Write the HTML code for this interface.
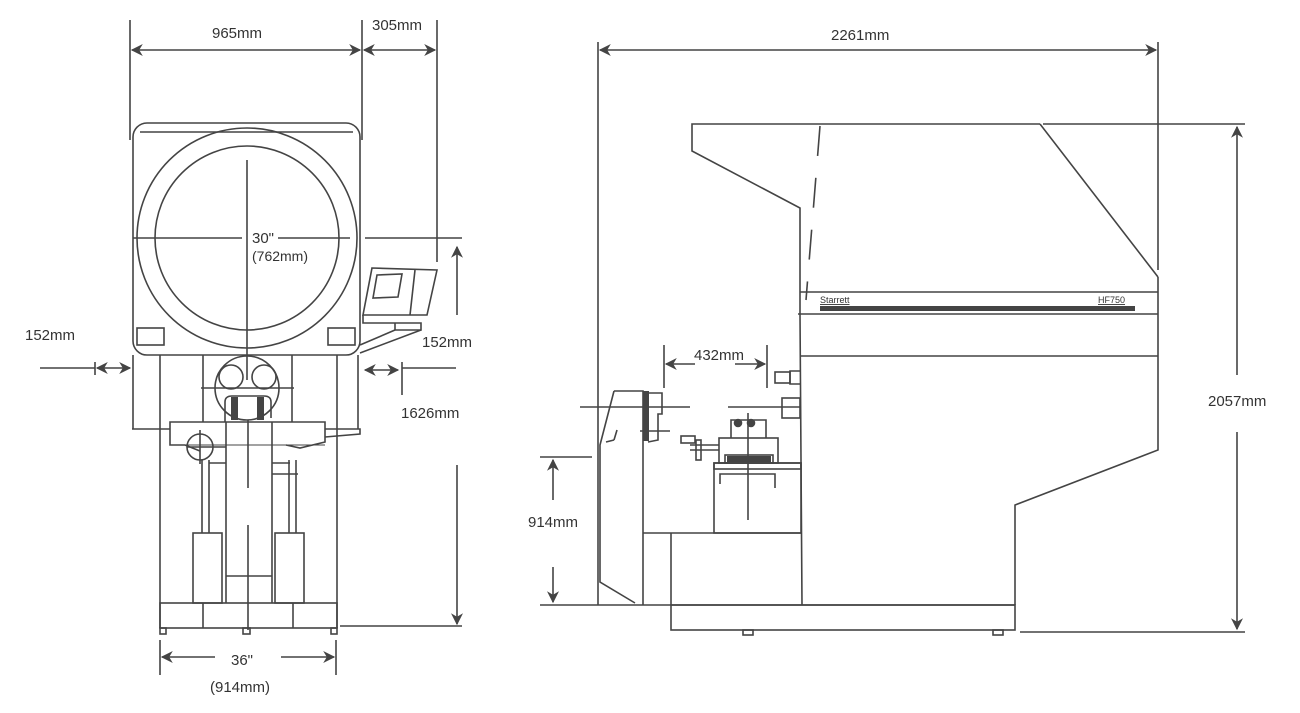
<!DOCTYPE html>
<html><head><meta charset="utf-8"><style>
html,body{margin:0;padding:0;background:#fff}
svg{display:block}
text{font-family:"Liberation Sans",sans-serif;fill:#333}
</style></head><body>
<svg width="1300" height="713" viewBox="0 0 1300 713" xmlns="http://www.w3.org/2000/svg">
<defs>
<marker id="a" viewBox="0 0 10 10" refX="9" refY="5" markerWidth="14" markerHeight="12" orient="auto-start-reverse" markerUnits="userSpaceOnUse"><path d="M0,0 L10,5 L0,10 L3,5 z" fill="#444"/></marker>
</defs>
<g stroke="#444" stroke-width="1.6" fill="none">
<line x1="130" y1="20" x2="130" y2="140"/>
<line x1="362" y1="20" x2="362" y2="140"/>
<line x1="437" y1="20" x2="437" y2="262"/>
<line x1="132" y1="50" x2="360" y2="50" marker-start="url(#a)" marker-end="url(#a)"/>
<line x1="364" y1="50" x2="435" y2="50" marker-start="url(#a)" marker-end="url(#a)"/>
<rect x="133" y="123" width="227" height="232" rx="14"/>
<line x1="140" y1="132" x2="353" y2="132"/>
<circle cx="247" cy="238" r="110"/>
<circle cx="247" cy="238" r="92"/>
<line x1="133" y1="238" x2="242" y2="238"/>
<line x1="278" y1="238" x2="350" y2="238"/>
<line x1="247" y1="160" x2="247" y2="380"/>
<line x1="365" y1="238" x2="462" y2="238"/>
<rect x="137" y="328" width="27" height="17"/>
<rect x="328" y="328" width="27" height="17"/>
<polygon points="372,268 437,270 427,315 363,315"/>
<polygon points="377,275 402,274 398,297 373,298"/>
<line x1="415" y1="270" x2="410" y2="315"/>
<polyline points="363,315 363,323 421,323 421,330 395,330 395,323"/>
<line x1="360" y1="353" x2="421" y2="330"/>
<line x1="360" y1="345" x2="395" y2="330"/>
<line x1="457" y1="315" x2="457" y2="247" marker-end="url(#a)"/>
<line x1="40" y1="368" x2="95" y2="368"/>
<line x1="95" y1="362" x2="95" y2="375"/>
<line x1="97" y1="368" x2="130" y2="368" marker-start="url(#a)" marker-end="url(#a)"/>
<line x1="365" y1="370" x2="398" y2="370" marker-start="url(#a)" marker-end="url(#a)"/>
<line x1="402" y1="362" x2="402" y2="395"/>
<line x1="402" y1="368" x2="456" y2="368"/>
<line x1="133" y1="355" x2="133" y2="429"/>
<line x1="358" y1="355" x2="358" y2="429"/>
<line x1="160" y1="355" x2="160" y2="628"/>
<line x1="337" y1="355" x2="337" y2="628"/>
<line x1="203" y1="355" x2="203" y2="422"/>
<line x1="292" y1="355" x2="292" y2="422"/>
<circle cx="247" cy="388" r="32"/>
<circle cx="231" cy="377" r="12"/>
<circle cx="264" cy="377" r="12"/>
<line x1="201" y1="388" x2="294" y2="388"/>
<path d="M225,422 L225,402 Q225,396 232,396 L264,396 Q271,396 271,402 L271,418"/>
<rect x="231" y="397" width="7" height="23" fill="#444" stroke="none"/>
<rect x="257" y="397" width="7" height="23" fill="#444" stroke="none"/>
<polyline points="170,437 170,422 325,422 325,437"/>
<polyline points="132,429 170,429 M132,429 132,434 170,437"/>
<polyline points="325,437 360,434 360,429 325,429"/>
<polyline points="170,437 170,445 185,445 200,451"/>
<polyline points="286,445 300,448 325,442 325,437"/>
<line x1="170" y1="445" x2="325" y2="445" stroke-width="1"/>
<circle cx="200" cy="447" r="13"/>
<line x1="200" y1="430" x2="200" y2="464"/>
<line x1="187" y1="447" x2="226" y2="447"/>
<line x1="226" y1="422" x2="226" y2="603"/>
<line x1="272" y1="422" x2="272" y2="603"/>
<line x1="226" y1="576" x2="272" y2="576"/>
<line x1="248" y1="420" x2="248" y2="488"/>
<line x1="248" y1="525" x2="248" y2="630"/>
<line x1="202" y1="460" x2="202" y2="533"/>
<line x1="209" y1="460" x2="209" y2="533"/>
<line x1="289" y1="460" x2="289" y2="533"/>
<line x1="296" y1="460" x2="296" y2="533"/>
<line x1="209" y1="463" x2="226" y2="463"/>
<line x1="272" y1="463" x2="290" y2="463"/>
<line x1="272" y1="474" x2="298" y2="474"/>
<rect x="193" y="533" width="29" height="70"/>
<rect x="275" y="533" width="29" height="70"/>
<rect x="160" y="603" width="177" height="25"/>
<line x1="203" y1="603" x2="203" y2="628"/>
<line x1="293" y1="603" x2="293" y2="628"/>
<rect x="160" y="628" width="6" height="6"/>
<rect x="243" y="628" width="7" height="6"/>
<rect x="331" y="628" width="6" height="6"/>
<line x1="457" y1="465" x2="457" y2="624" marker-end="url(#a)"/>
<line x1="340" y1="626" x2="462" y2="626"/>
<line x1="160" y1="640" x2="160" y2="675"/>
<line x1="336" y1="640" x2="336" y2="675"/>
<line x1="162" y1="657" x2="215" y2="657" marker-start="url(#a)"/>
<line x1="281" y1="657" x2="334" y2="657" marker-end="url(#a)"/>

<line x1="598" y1="42" x2="598" y2="605"/>
<line x1="1158" y1="42" x2="1158" y2="270"/>
<line x1="600" y1="50" x2="1156" y2="50" marker-start="url(#a)" marker-end="url(#a)"/>
<polyline points="1040,124 692,124 692,151 800,208 800,314 802,605"/>
<line x1="1040" y1="124" x2="1158" y2="277"/>
<line x1="820" y1="126" x2="806" y2="300" stroke-dasharray="30,22"/>
<line x1="1043" y1="124" x2="1245" y2="124"/>
<line x1="1237" y1="375" x2="1237" y2="127" marker-end="url(#a)"/>
<line x1="1237" y1="432" x2="1237" y2="629" marker-end="url(#a)"/>
<line x1="1020" y1="632" x2="1245" y2="632"/>
<line x1="800" y1="292" x2="1158" y2="292"/>
<line x1="798" y1="314" x2="1158" y2="314"/>
<line x1="800" y1="356" x2="1158" y2="356"/>
<polyline points="1158,277 1158,450 1015,505 1015,605"/>
<line x1="598" y1="605" x2="1015" y2="605"/>
<rect x="671" y="605" width="344" height="25"/>
<rect x="743" y="630" width="10" height="5"/>
<rect x="993" y="630" width="10" height="5"/>
<polyline points="614,391 600,445 600,582 635,603"/>
<polyline points="614,391 643,391 643,605"/>
<line x1="671" y1="533" x2="671" y2="605"/>
<line x1="643" y1="533" x2="801" y2="533"/>
<polyline points="646,393 662,393 662,414 658,414 658,440 648,442"/>
<rect x="643" y="391" width="6" height="50" fill="#444" stroke="none"/>
<line x1="580" y1="407" x2="690" y2="407"/>
<line x1="728" y1="407" x2="800" y2="407"/>
<line x1="640" y1="431" x2="670" y2="431"/>
<line x1="617" y1="430" x2="614" y2="440"/>
<line x1="606" y1="442" x2="614" y2="440"/>
<polyline points="800,371 790,371 790,384 800,384"/>
<rect x="775" y="372" width="15" height="11"/>
<rect x="782" y="398" width="18" height="20"/>
<rect x="714" y="463" width="87" height="70"/>
<rect x="714" y="463" width="87" height="6"/>
<polyline points="720,484 720,474 775,474 775,488"/>
<rect x="719" y="438" width="59" height="25"/>
<rect x="725" y="455" width="48" height="8"/>
<rect x="727" y="456" width="44" height="6" fill="#444" stroke="none"/>
<polyline points="731,438 731,420 766,420 766,438"/>
<line x1="748" y1="413" x2="748" y2="520"/>
<circle cx="738" cy="423" r="3.5" fill="#444"/>
<circle cx="751" cy="423" r="3.5" fill="#444"/>
<line x1="690" y1="445" x2="719" y2="445"/>
<line x1="690" y1="450" x2="719" y2="450"/>
<rect x="681" y="436" width="14" height="7"/>
<rect x="696" y="440" width="5" height="20"/>
<line x1="664" y1="345" x2="664" y2="388"/>
<line x1="767" y1="345" x2="767" y2="388"/>
<line x1="666" y1="364" x2="695" y2="364" marker-start="url(#a)"/>
<line x1="735" y1="364" x2="765" y2="364" marker-end="url(#a)"/>
<line x1="540" y1="457" x2="592" y2="457"/>
<line x1="540" y1="605" x2="598" y2="605"/>
<line x1="553" y1="500" x2="553" y2="460" marker-end="url(#a)"/>
<line x1="553" y1="567" x2="553" y2="602" marker-end="url(#a)"/>
</g>
<rect x="820" y="306" width="315" height="5" fill="#444"/>
<g font-size="15">
<text x="212" y="38">965mm</text>
<text x="372" y="30">305mm</text>
<text x="252" y="243">30"</text>
<text x="252" y="261" font-size="14">(762mm)</text>
<text x="25" y="340">152mm</text>
<text x="422" y="347">152mm</text>
<text x="401" y="418">1626mm</text>
<text x="231" y="665">36"</text>
<text x="210" y="692">(914mm)</text>
<text x="831" y="40">2261mm</text>
<text x="1208" y="406">2057mm</text>
<text x="528" y="527">914mm</text>
<text x="694" y="360">432mm</text>
</g>
<text x="820" y="303" font-size="9" text-decoration="underline">Starrett</text>
<text x="1098" y="303" font-size="9" text-decoration="underline">HF750</text>
</svg>
</body></html>
